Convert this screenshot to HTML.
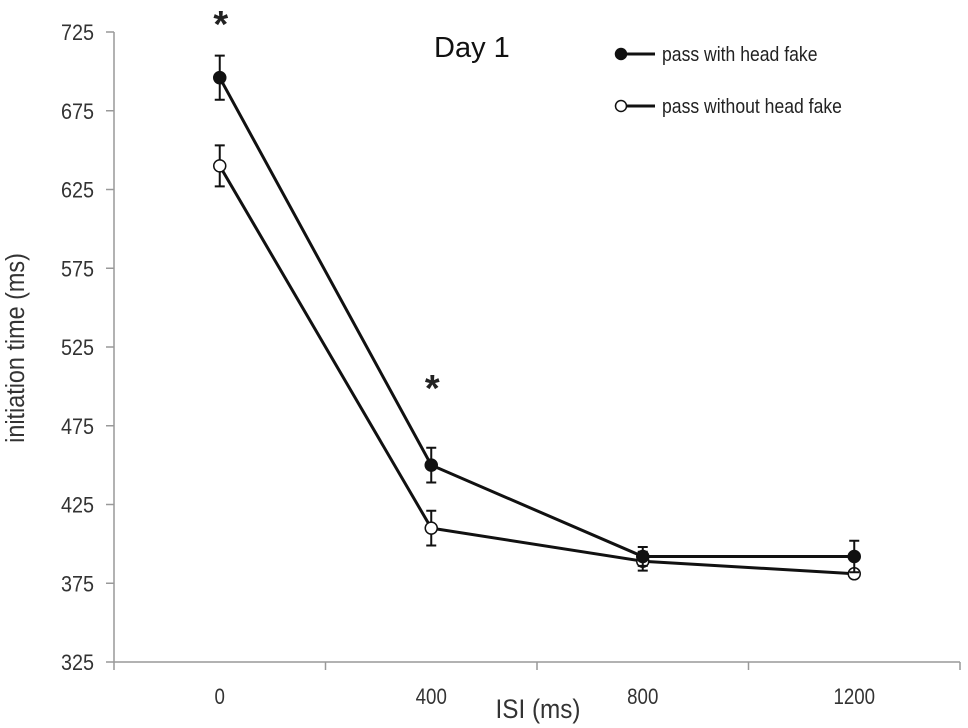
<!DOCTYPE html>
<html><head><meta charset="utf-8"><style>
body{margin:0;background:#fff}
svg{display:block;font-family:"Liberation Sans",sans-serif}
</style></head><body>
<svg id="c" width="968" height="728"></svg>
<script>
const categories=["0","400","800","1200"];
const withFake=[696,450,392,392];
const withFakeErr=[14,11,6,10];
const withoutFake=[640,410,389,381];
const withoutFakeErr=[13,11,6,2];
const yTicks=[325,375,425,475,525,575,625,675,725];
const stars=[0,1];
const starLevels=[737,506];
const NS="http://www.w3.org/2000/svg";
const svg=document.getElementById('c');
const X0=114,X1=960,Y0=662,Y1=32,YMIN=325,YMAX=725;
const bw=(X1-X0)/categories.length;
const xs=i=>X0+bw*(i+0.5);
const ys=v=>Y0-(v-YMIN)/(YMAX-YMIN)*(Y0-Y1);
function el(t,a,p){const e=document.createElementNS(NS,t);for(const k in a)e.setAttribute(k,a[k]);(p||svg).appendChild(e);return e;}
const ax=el('g',{});


el('line',{x1:X0,y1:Y1,x2:X0,y2:Y0,stroke:'#999','stroke-width':1.5},ax);
el('line',{x1:X0,y1:Y0,x2:X1,y2:Y0,stroke:'#999','stroke-width':1.5},ax);
yTicks.forEach(v=>{
 el('line',{x1:X0-8,y1:ys(v),x2:X0,y2:ys(v),stroke:'#999','stroke-width':1.5},ax);
 const t=el('text',{x:0,y:0,'text-anchor':'end','font-size':22,fill:'#333',transform:`translate(${X0-20},${ys(v)+8}) scale(0.9,1)`},ax);
 t.textContent=v;
 
 
});
for(let i=0;i<=categories.length;i++){
 el('line',{x1:X0+bw*i,y1:Y0,x2:X0+bw*i,y2:Y0+8,stroke:'#999','stroke-width':1.5},ax);
}
categories.forEach((c,i)=>{
 const t=el('text',{x:0,y:0,'text-anchor':'middle','font-size':22,fill:'#333',transform:`translate(${xs(i)},${Y0+42}) scale(0.85,1)`},ax);
 t.textContent=c;
 
 
});
const xt=el('text',{x:0,y:0,'text-anchor':'middle','font-size':27,fill:'#333',transform:'translate(538,718) scale(0.9,1)'});
xt.textContent='ISI (ms)';


const yt=el('text',{x:0,y:0,'text-anchor':'middle','font-size':26,fill:'#333',transform:'translate(24,348) rotate(-90) scale(0.9,1)'});
yt.textContent='initiation time (ms)';


const title=el('text',{x:434,y:57,'font-size':29,fill:'#111'});
title.textContent='Day 1';


function series(vals,errs,fill,name){
 const g=el('g',{});
 
 
 el('polyline',{points:vals.map((v,i)=>xs(i)+','+ys(v)).join(' '),fill:'none',stroke:'#111','stroke-width':3},g);
 vals.forEach((v,i)=>{
  const x=xs(i),a=ys(v+errs[i]),b=ys(v-errs[i]);
  el('path',{d:`M${x-5},${a}H${x+5}M${x},${a}V${b}M${x-5},${b}H${x+5}`,stroke:'#111','stroke-width':2,fill:'none'},g);
  const c=el('circle',{cx:x,cy:ys(v),r:6,fill:fill,stroke:'#111','stroke-width':1.5},g);
  
  
 });
}
series(withoutFake,withoutFakeErr,'#fff','series-without-head-fake');
series(withFake,withFakeErr,'#111','series-with-head-fake');
stars.forEach((i,k)=>{
 const t=el('text',{x:xs(i)+1,y:ys(starLevels[k])+24,'text-anchor':'middle','font-size':38,'font-weight':'bold',fill:'#222'});
 t.textContent='*';
 
 
});
[['pass with head fake','#111',54],['pass without head fake','#fff',106]].forEach(([lab,f,y])=>{
 const g=el('g',{});
 
 
 el('line',{x1:618,y1:y,x2:655,y2:y,stroke:'#111','stroke-width':3},g);
 el('circle',{cx:621,cy:y,r:5.5,fill:f,stroke:'#111','stroke-width':1.5},g);
 const t=el('text',{x:0,y:0,'font-size':20,fill:'#222',transform:`translate(662,${y+7}) scale(0.88,1)`},g);
 t.textContent=lab;
});
</script>
</body></html>
